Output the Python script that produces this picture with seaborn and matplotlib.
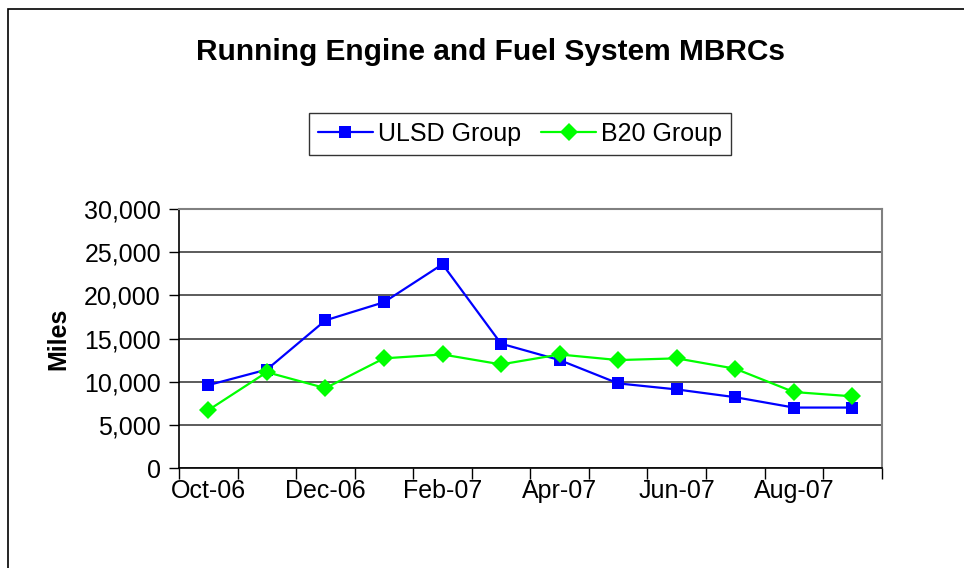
import matplotlib
matplotlib.use("Agg")
import matplotlib.pyplot as plt
from matplotlib.patches import Rectangle
from matplotlib.ticker import FuncFormatter, FixedLocator
import seaborn as sns
import pandas as pd

# Data
months = ["Oct-06", "Nov-06", "Dec-06", "Jan-07", "Feb-07", "Mar-07",
          "Apr-07", "May-07", "Jun-07", "Jul-07", "Aug-07", "Sep-07"]
ulsd = [9600, 11400, 17100, 19200, 23600, 14400,
        12500, 9800, 9100, 8200, 7000, 7000]
b20 = [6700, 11100, 9250, 12700, 13150, 12000,
       13150, 12500, 12700, 11500, 8800, 8300]

df = pd.DataFrame({
    "pos": list(range(len(months))) * 2,
    "miles": ulsd + b20,
    "group": ["ULSD Group"] * len(months) + ["B20 Group"] * len(months),
})

sns.set_style("white")
plt.rcParams["font.family"] = ["Liberation Sans", "DejaVu Sans"]
plt.rcParams["text.color"] = "black"
plt.rcParams["axes.labelcolor"] = "black"
plt.rcParams["xtick.color"] = "black"
plt.rcParams["ytick.color"] = "black"

fig = plt.figure(figsize = (9.64, 5.68), dpi = 100)
ax = fig.add_axes([179 / 964, 1 - 468 / 568, (881.7 - 179) / 964, (468 - 209) / 568])

# Outer chart frame (only top/left visible in the crop)
fig.patches.append(Rectangle((8 / 964, -0.2), 1.2, 1.2 - 9 / 568,
                             transform = fig.transFigure, fill = False,
                             edgecolor = "#000000", linewidth = 1.2))

sns.lineplot(data = df, x = "pos", y = "miles", hue = "group", style = "group",
             palette = {"ULSD Group": "#0000FF", "B20 Group": "#00FF00"},
             markers = {"ULSD Group": "s", "B20 Group": "D"},
             dashes = False, sort = False, linewidth = 1.6,
             markersize = 9, markeredgewidth = 0, legend = True, ax = ax, zorder = 3)

ax.set_xlim(-0.5, len(months) - 0.5)
ax.set_ylim(0, 30000)
ax.set_yticks(range(0, 30001, 5000))
ax.yaxis.set_major_formatter(FuncFormatter(lambda v, p: f"{int(v):,}"))

# category boundaries get the tick marks, labels every other month
ax.xaxis.set_major_locator(FixedLocator([i - 0.5 for i in range(len(months) + 1)]))
ax.set_xticklabels([])
ax.xaxis.set_minor_locator(FixedLocator(list(range(0, len(months), 2))))
ax.set_xticklabels(months[::2], minor = True)
ax.tick_params(axis = "x", which = "major", direction = "out", length = 8, width = 1, color = "black", bottom = True)
ax.tick_params(axis = "x", which = "minor", length = 0, pad = 8, labelsize = 18, labelcolor = "black")
ax.tick_params(axis = "y", direction = "out", length = 7, width = 1, color = "black", left = True,
               labelsize = 18, pad = 6, labelcolor = "black")

ax.yaxis.grid(True, color = "#404040", linewidth = 1.2)
ax.set_axisbelow(True)

for side in ["left", "bottom"]:
    ax.spines[side].set_color("black")
    ax.spines[side].set_linewidth(1.2)
for side in ["right", "top"]:
    ax.spines[side].set_color("#808080")
    ax.spines[side].set_linewidth(1.5)

ax.set_xlabel("")
ax.set_ylabel("Miles", fontsize = 18, fontweight = "bold", labelpad = 10, color = "black")

fig.text(490 / 964, 1 - 52 / 568, "Running Engine and Fuel System MBRCs",
         ha = "center", va = "center", fontsize = 21.5, fontweight = "bold", color = "black")

handles, labels = ax.get_legend_handles_labels()
ax.get_legend().remove()
leg = fig.legend(handles, labels, loc = "center", bbox_to_anchor = (520 / 964, 1 - 134 / 568),
                 ncol = 2, fontsize = 18, frameon = True, fancybox = False,
                 handlelength = 2.2, handletextpad = 0.2, columnspacing = 0.8,
                 borderpad = 0.35, edgecolor = "black")
leg.get_frame().set_linewidth(1.0)
for t in leg.get_texts():
    t.set_color("black")

fig.savefig("out.png", dpi = 100)
plt.close(fig)
